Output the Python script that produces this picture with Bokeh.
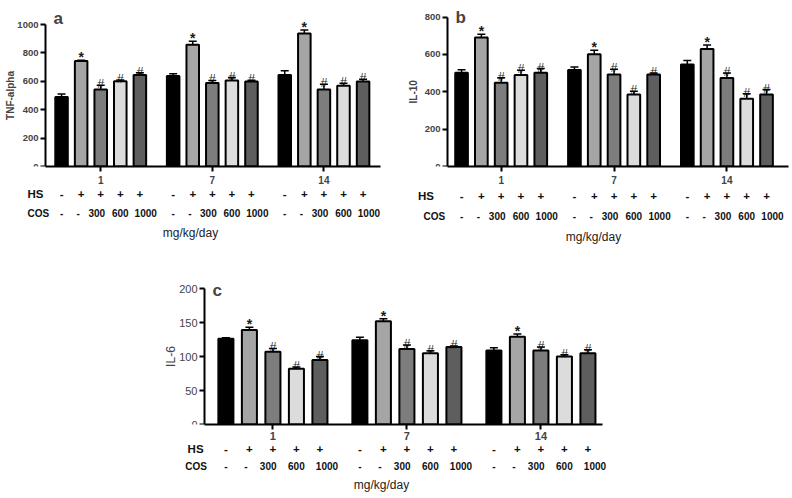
from bokeh.plotting import figure
from bokeh.models import (ColumnDataSource, FixedTicker, LinearAxis, Range1d, Label,
                          Whisker, TeeHead, Spacer)
from bokeh.layouts import column, row
from bokeh.core.properties import value
from bokeh.embed import file_html
from bokeh.resources import INLINE

# ---------------- data ----------------
days = ["1", "7", "14"]
hs_signs = ["-", "+", "+", "+", "+"]
cos_doses = ["-", "-", "300", "600", "1000"]
row_names = ["HS", "COS"]
sig_marks = ["", "*", "#", "#", "#"]
bar_colors = ["#000000", "#a5a5a5", "#7d7d7d", "#dcdcdc", "#5e5e5e"]

tnf_alpha = [[490, 743, 542, 600, 645],
             [638, 857, 588, 606, 599],
             [645, 936, 542, 569, 599]]
tnf_alpha_err = [[20, 6, 30, 10, 15],
                 [15, 25, 18, 20, 8],
                 [30, 25, 38, 18, 15]]

il10 = [[502, 690, 449, 490, 502],
        [516, 601, 492, 386, 492],
        [546, 629, 474, 363, 386]]
il10_err = [[16, 18, 26, 25, 22],
            [17, 21, 28, 17, 8],
            [21, 22, 26, 26, 26]]

il6 = [[126, 139, 107, 82, 95],
       [124, 152, 111, 105, 114],
       [109, 129, 109, 100, 105]]
il6_err = [[1.5, 4, 5, 2.5, 5],
           [4.5, 3.5, 6, 3.5, 1.5],
           [4, 4, 5, 2.5, 5]]

GROUP_STEP = 57
BAR_STEP = 10
BAR_W = 6.4
COS_SHIFT = [0, -1.5, -2, 0, 3]   # label nudges under the bars
NUM = "Liberation Sans"


def make_panel(vals, errs, y_max, y_step, y_top, y_label, letter, width, height,
               br, bt, bb, axis_x, x_end, ax_off, tick_bold, tick_size,
               lab_size, lab_bold, lab_x, name_pos, letter_dy, letter_size,
               stands, day_size):
    xs, ys, tops, cols, hs_l, cos_l, cos_x, mk = [], [], [], [], [], [], [], []
    for g in range(len(days)):
        for i in range(len(hs_signs)):
            x = GROUP_STEP * g + BAR_STEP * i
            xs.append(x)
            ys.append(vals[g][i])
            tops.append(vals[g][i] + errs[g][i])
            cols.append(bar_colors[i])
            hs_l.append(hs_signs[i])
            cos_l.append(cos_doses[i])
            cos_x.append(x + COS_SHIFT[i])
            mk.append(sig_marks[i])
    src = ColumnDataSource(dict(x=xs, y=ys, top=tops, color=cols, mk=mk))

    fw = width - br
    upp = (x_end - axis_x) / (fw - ax_off)
    x_start = axis_x - ax_off * upp

    p = figure(width=width, height=height, x_range=Range1d(x_start, x_end),
               y_range=Range1d(0, y_top), x_axis_type=None,
               output_backend="svg", toolbar_location=None,
               min_border_left=0, min_border_right=br,
               min_border_top=bt, min_border_bottom=bb)
    p.outline_line_color = None
    p.grid.visible = False
    p.background_fill_color = "white"

    p.vbar(x="x", top="y", bottom=0, width=BAR_W, fill_color="color",
           line_color="black", line_width=2, source=src)
    wk = Whisker(base="x", lower="y", upper="top", source=src,
                 line_color="black", line_width=1.5,
                 upper_head=TeeHead(size=8, line_width=1.5, line_color="black"),
                 lower_head=None, level="overlay")
    p.add_layout(wk)

    star_idx = [k for k, m in enumerate(mk) if m == "*"]
    hash_idx = [k for k, m in enumerate(mk) if m == "#"]
    p.text(x=[xs[k] for k in star_idx], y=[tops[k] for k in star_idx],
           text=[mk[k] for k in star_idx], text_align="center",
           text_baseline="bottom", y_offset=5,
           text_font=value(NUM), text_font_style="bold", text_font_size="14px",
           text_color="#1a1a1a", level="overlay")
    p.text(x=[xs[k] for k in hash_idx], y=[tops[k] for k in hash_idx],
           text=[mk[k] for k in hash_idx], text_align="center",
           text_baseline="bottom", y_offset=6,
           text_font=value(NUM), text_font_size="12.5px", text_color="#222222",
           level="overlay")

    # y axis, drawn at the left end of the bar area
    ya = p.yaxis[0]
    ya.fixed_location = axis_x
    ya.ticker = FixedTicker(ticks=list(range(0, y_max + 1, y_step)))
    ya.bounds = (0, y_max)
    ya.axis_line_width = 2
    ya.major_tick_line_width = 2
    ya.major_tick_out = 5
    ya.major_tick_in = 0
    ya.minor_tick_line_color = None
    ya.major_label_standoff = 2
    ya.major_label_text_font = NUM
    ya.major_label_text_font_size = f"{tick_size}px"
    ya.major_label_text_font_style = "bold" if tick_bold else "normal"
    p.add_layout(Label(x=lab_x, x_units="screen", y=y_max / 2, y_units="data",
                       text=y_label, angle=90, angle_units="deg",
                       text_align="center", text_baseline="middle",
                       text_font=NUM, text_font_size=f"{lab_size}px",
                       text_font_style="bold" if lab_bold else "normal"))

    # x axes: day, HS, COS
    centers = [GROUP_STEP * g + BAR_STEP * 2 for g in range(len(days))]
    day_ax = LinearAxis(ticker=FixedTicker(ticks=centers),
                        major_label_overrides={c: d for c, d in zip(centers, days)})
    day_ax.bounds = (axis_x, x_end)
    day_ax.axis_line_width = 2
    day_ax.major_tick_line_width = 2
    day_ax.major_tick_out = 5
    day_ax.major_tick_in = 0
    day_ax.minor_tick_line_color = None
    day_ax.major_label_standoff = stands[0]
    day_ax.major_label_text_font = NUM
    day_ax.major_label_text_font_style = "bold"
    day_ax.major_label_text_font_size = day_size
    p.add_layout(day_ax, "below")

    rows = ((row_names[0], hs_l, xs, name_pos[0], stands[1], "11.5px", None),
            (row_names[1], cos_l, cos_x, name_pos[1], stands[2], "10px", "mg/kg/day"))
    for name, labels, lx, npos, stand, fsize, alabel in rows:
        ticks = [npos] + lx
        texts = [name] + labels
        ax = LinearAxis(ticker=FixedTicker(ticks=ticks),
                        major_label_overrides={x: t for x, t in zip(ticks, texts)})
        ax.axis_line_color = None
        ax.major_tick_line_color = None
        ax.minor_tick_line_color = None
        ax.major_tick_out = 0
        ax.major_tick_in = 0
        ax.major_label_standoff = stand
        ax.major_label_text_font = NUM
        ax.major_label_text_font_style = "bold"
        ax.major_label_text_font_size = fsize
        ax.major_label_text_color = "#111111"
        if alabel:
            ax.axis_label = alabel
            ax.axis_label_standoff = stands[3]
            ax.axis_label_text_font = NUM
            ax.axis_label_text_font_style = "normal"
            ax.axis_label_text_font_size = "12px"
            ax.axis_label_text_color = "#222222"
        p.add_layout(ax, "below")

    p.add_layout(Label(x=ax_off + 8, x_units="screen", y=y_top, y_units="data",
                       y_offset=letter_dy, text=letter, text_align="left",
                       text_baseline="alphabetic", text_font=NUM,
                       text_font_style="bold", text_font_size=f"{letter_size}px"))
    return p


pa = make_panel(tnf_alpha, tnf_alpha_err, 1000, 200, 1155, "TNF-alpha", "a",
                width=398, height=250, br=18, bt=2, bb=79,
                axis_x=-8.2, x_end=162.9, ax_off=45, tick_bold=True, tick_size=9.5,
                lab_size=10, lab_bold=True, lab_x=10, name_pos=(-13.3, -11.8),
                letter_dy=-16, letter_size=17, stands=(4, 1, 5, 4), day_size="10px")
pb = make_panel(il10, il10_err, 800, 200, 878, "IL-10", "b",
                width=394, height=250, br=4, bt=0, bb=84,
                axis_x=-7.1, x_end=165.1, ax_off=49, tick_bold=True, tick_size=9.5,
                lab_size=10, lab_bold=True, lab_x=15, name_pos=(-18.0, -13.7),
                letter_dy=-15, letter_size=17, stands=(4, 3, 6, 5), day_size="10px")
pc = make_panel(il6, il6_err, 200, 50, 206, "IL-6", "c",
                width=460, height=248, br=18, bt=34, bb=74,
                axis_x=-9.1, x_end=160.2, ax_off=44, tick_bold=False, tick_size=11,
                lab_size=12, lab_bold=False, lab_x=10, name_pos=(-12.9, -12.7),
                letter_dy=-6, letter_size=17, stands=(2, 0, 3, 3), day_size="11px")

layout = column(row(pa, pb), row(Spacer(width=160, height=248), pc))
open("out.html", "w").write(file_html(layout, INLINE))
